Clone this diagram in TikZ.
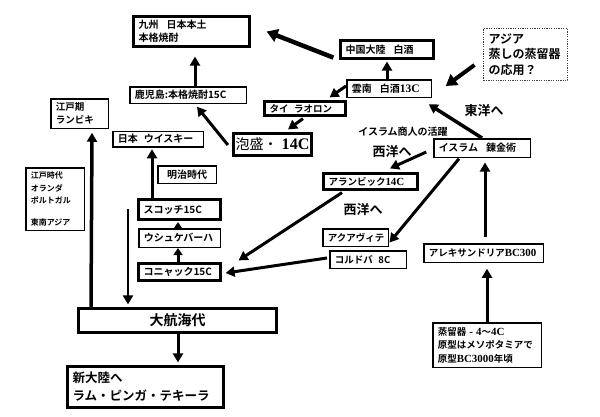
\documentclass[tikz,border=0pt]{standalone}
\usepackage{fontspec}
\setmainfont{Noto Sans CJK JP}[BoldFont={Noto Sans CJK JP Bold}]
\newfontfamily\tmfont{Liberation Serif}[Scale=1.15]
\usetikzlibrary{arrows.meta,calc}
\newcommand{\tm}[1]{{\tmfont\bfseries #1}}
\newcommand{\fs}[2]{\fontsize{#1}{#2}\selectfont}
\begin{document}
\begin{tikzpicture}[x=1pt,y=-1pt,
  bx/.style={draw, line width=1.5pt, inner xsep=5pt, inner ysep=1pt, align=left, font=\bfseries\fs{10}{13}},
  thk/.style={bx, line width=3.2pt},
  arr/.style={line width=3pt, -{Triangle[length=9pt,width=10pt]}},
  arrbig/.style={line width=4.5pt, -{Triangle[length=11pt,width=13pt]}},
  arrsm/.style={line width=3pt, -{Triangle[length=7pt,width=9pt]}},
  lbl/.style={font=\bfseries\fs{13}{16}, inner sep=0pt},
  dotbox/.style={draw=black!75, dash pattern=on 1.2pt off 1.2pt, line width=1pt, inner xsep=5pt, align=left, font=\bfseries\fs{12}{15.5}}
]
\fill[white] (0,0) rectangle (600,416);
\useasboundingbox (0,0) rectangle (600,416);

% boxes
\node[thk, minimum width=116pt, minimum height=30pt, text width=106pt] (kyushu) at (191.5,31.5) {九州\hspace{0.8em}日本本土\\本格焼酎};
\node[bx, minimum width=116.5pt, minimum height=16.5pt, text width=106.5pt] (kago) at (188,95) {鹿児島:本格焼酎15C};
\node[bx, minimum width=57.5pt, minimum height=29.5pt, text width=47.5pt, font=\bfseries\fs{9.5}{13}] (edoki) at (79.5,113.5) {江戸期\\ランビキ};
\node[bx, minimum width=90.5pt, minimum height=15.5pt, text width=80.5pt] (nihonw) at (158,139) {日本\hspace{0.6em}ウイスキー};
\node[thk, minimum width=78pt, minimum height=22pt, inner xsep=2pt, align=center, font=\fs{14}{16}] (awamori) at (272.5,144.5) {泡盛・\hspace{0.3em}\tm{14C}};
\node[thk, minimum width=81pt, minimum height=14pt, text width=71pt, font=\bfseries\fs{9.5}{12}] (thai) at (305,108.5) {タイ\hspace{0.6em}ラオロン};
\node[bx, minimum width=84.5pt, minimum height=17.5pt, text width=74.5pt] (unnan) at (389,88.5) {雲南\hspace{0.8em}白酒\tm{13C}};
\node[thk, minimum width=93pt, minimum height=18pt, text width=83pt] (china) at (387,49.5) {中国大陸\hspace{0.8em}白酒};
\node[dotbox, minimum width=84pt, minimum height=52pt, text width=74pt] (asia) at (525.5,54.5) {アジア\\蒸しの蒸留器\\の応用？};
\node[bx, minimum width=96.5pt, minimum height=18.5pt, text width=86.5pt] (islam) at (482,148) {イスラム\hspace{0.8em}錬金術};
\node[thk, minimum width=94pt, minimum height=16pt, text width=84pt, font=\bfseries\fs{9.5}{12}] (alambic) at (370.5,181.5) {アランビック\tm{14C}};
\node[bx, minimum width=65.5pt, minimum height=17.5pt, text width=55.5pt, font=\bfseries\fs{9.5}{12}] (aqua) at (355.5,237.5) {アクアヴィテ};
\node[bx, minimum width=76.5pt, minimum height=17.5pt, text width=66.5pt, font=\bfseries\fs{9.5}{12}] (cordoba) at (368,259.5) {コルドバ\hspace{0.6em}8C};
\node[bx, minimum width=119.5pt, minimum height=18.5pt, text width=109.5pt, font=\bfseries\fs{9.5}{12}] (alex) at (483.5,253) {アレキサンドリア\tm{BC300}};
\node[bx, minimum width=108.5pt, minimum height=44.5pt, text width=98.5pt, font=\bfseries\fs{9.5}{13.5}] (joryu) at (487,345) {蒸留器\tm{ - 4}～\tm{4C}\\原型はメソポタミアで\\原型\tm{BC3000}年頃};
\node[bx, minimum width=58.5pt, minimum height=62.5pt, text width=48.5pt, font=\bfseries\fs{8}{12.5}] (edojidai) at (55,199) {江戸時代\\オランダ\\ポルトガル\\[9pt]東南アジア};
\node[bx, minimum width=58.5pt, minimum height=17.5pt, text width=48.5pt, align=center] (meiji) at (187,174.5) {明治時代};
\node[thk, minimum width=82pt, minimum height=20pt, text width=72pt] (scotch) at (179.5,209.5) {スコッチ15C};
\node[bx, minimum width=81.5pt, minimum height=18.5pt, text width=71.5pt] (usque) at (179.5,238) {ウシュケバーハ};
\node[thk, minimum width=82pt, minimum height=17pt, text width=72pt] (cognac) at (179.5,272) {コニャック15C};
\node[thk, minimum width=198pt, minimum height=24pt, text width=188pt, align=center, font=\bfseries\fs{14}{16}] (daikokai) at (177.5,320.5) {大航海代};
\node[thk, minimum width=156pt, minimum height=41pt, text width=146pt, font=\bfseries\fs{12.5}{18}] (shin) at (145.5,387) {新大陸へ\\ラム・ピンガ・テキーラ};

% labels
\node[lbl] (toyo) at (484,111) {東洋へ};
\node[lbl, font=\bfseries\fs{10}{12}] (shonin) at (403,131.5) {イスラム商人の活躍};
\node[lbl] (seiyo1) at (392,152) {西洋へ};
\node[lbl] (seiyo2) at (363,210) {西洋へ};

% connectors
\draw[arr] ($(kago.north)+(7,0)$) -- ($(kyushu.south)+(3.5,8.5)$);
\draw[arrbig] ($(china.south west)+(-5.5,-2.5)$) -- ($(kyushu.east)+(15.5,0)$);
\draw[arr] ($(unnan.north)+(-2,0)$) -- ($(china.south)+(0,1.5)$);
\draw[arr] ($(unnan.west)+(0,-2.5)$) -- ($(thai.north east)+(-17.5,-2.5)$);
\draw[arr] ($(thai.south)+(-2,1.5)$) -- ($(awamori.north)+(15.5,-2.5)$);
\draw[arr] ($(awamori.west)+(-4,0.5)$) -- ($(kago.south)+(9,2.75)$);
\draw[arrbig, line width=4pt] ($(asia.west)+(-8.5,10.5)$) -- ($(unnan.east)+(13.75,-2.5)$);
\draw[arr, line width=3.5pt] (islam.north) -- ($(unnan.south east)+(-3.25,6.25)$);
\draw[arr] ($(islam.west)+(-6.75,4)$) -- ($(alambic.north)+(19.5,-3.5)$);
\draw[arr] ($(islam.south)+(-23,0.75)$) -- ($(aqua.east)+(0.5,5)$);
\draw[arr] ($(alex.north)+(1.5,-6.5)$) -- ($(islam.south)+(3,4.5)$);
\draw[arr] (joryu.north) -- ($(alex.south)+(3.5,5.75)$);
\draw[arr] ($(alambic.south)+(-28.5,1.5)$) -- ($(cognac.north east)+(16.5,-1.5)$);
\draw[arr] ($(cordoba.west)+(-2,-1.5)$) -- ($(cognac.east)+(3.5,1)$);
\draw[arrsm] ($(usque.north)+(-1.5,0)$) -- ($(scotch.south)+(-1.5,1)$);
\draw[arrsm] ($(cognac.north)+(-1.5,0)$) -- ($(usque.south)+(-1.5,0)$);
\draw[arr] ($(scotch.north)+(-27.5,0)$) -- ($(nihonw.south)+(-6,1.75)$);
\coordinate (drop) at (128,209);
\draw[arr, line width=2.5pt] (drop) -- ($(daikokai.north)+(-49.5,-2.5)$);
\draw[arr, line width=3.5pt] ($(daikokai.north)+(-86.5,0)$) -- ($(edoki.south)+(12.5,3.75)$);
\draw[arr] ($(daikokai.south)+(0.5,0)$) -- ($(shin.north)+(32.5,-2.5)$);
\end{tikzpicture}
\end{document}
